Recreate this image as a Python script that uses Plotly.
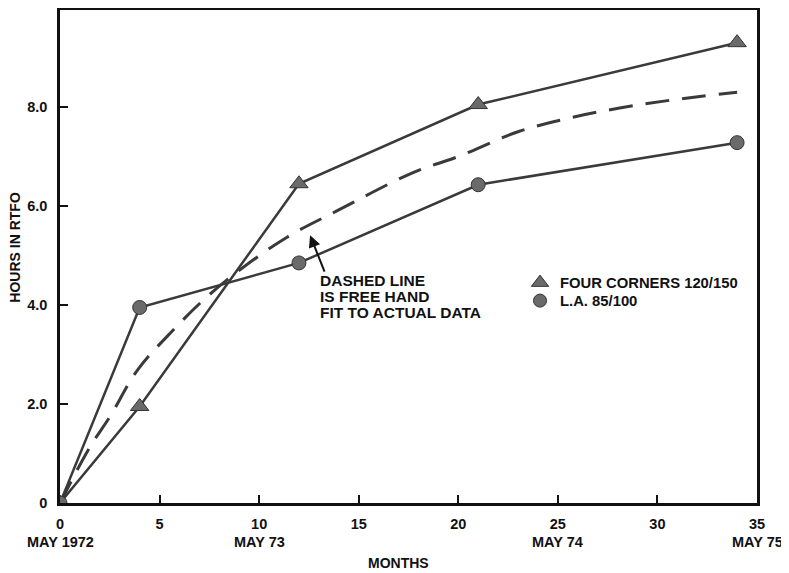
import plotly.graph_objects as go

months_fc = [0, 4, 12, 21, 34]
hours_fc = [0, 1.95, 6.45, 8.05, 9.3]

months_la = [0, 4, 12, 21, 34]
hours_la = [0, 3.95, 4.85, 6.43, 7.28]

months_fit = [0, 1.5, 2.5, 3.9, 5.7, 7.2, 9.0, 11.4, 13.9, 17.7, 20.0, 23.0, 25.6, 28.1, 30.7, 34.0]
hours_fit = [0, 1.13, 1.74, 2.69, 3.5, 4.1, 4.7, 5.37, 5.9, 6.67, 7.0, 7.5, 7.78, 7.98, 8.14, 8.3]

x_tickvals = [0, 5, 10, 15, 20, 25, 30, 35]
x_ticktext = ["0", "5", "10", "15", "20", "25", "30", "35"]
date_positions = [0, 10, 25, 35]
date_labels = ["MAY 1972", "MAY 73", "MAY 74", "MAY 75"]
y_tickvals = [0, 2, 4, 6, 8]
y_ticktext = ["0", "2.0", "4.0", "6.0", "8.0"]
note_lines = ["DASHED LINE", "IS FREE HAND", "FIT TO ACTUAL DATA"]

LINE = "#3a3a3a"
MARK = "#6a6a6a"
AX_FONT = dict(family="Liberation Sans, Arial", size=14.5, color="#111", weight="bold")
TX_FONT = dict(family="Liberation Sans, Arial", size=15.5, color="#111", weight="bold")
LG_FONT = dict(family="Liberation Sans, Arial", size=14.8, color="#111", weight="bold")

fig = go.Figure()
fig.add_trace(go.Scatter(x=months_fit, y=hours_fit, mode="lines", line=dict(color=LINE, width=3, dash="24px,13px", shape="spline"), showlegend=False))
fig.add_trace(go.Scatter(x=months_fc, y=hours_fc, mode="lines+markers", line=dict(color=LINE, width=2.5),
                         marker=dict(symbol="triangle-up", size=16, color=MARK, line=dict(color="#333", width=1)), showlegend=False))
fig.add_trace(go.Scatter(x=months_la, y=hours_la, mode="lines+markers", line=dict(color=LINE, width=2.5),
                         marker=dict(symbol="circle", size=14, color=MARK, line=dict(color="#333", width=1)), showlegend=False))
# legend entries
fig.add_trace(go.Scatter(x=[None], y=[None], mode="markers", name="FOUR CORNERS 120/150", legend="legend",
                         marker=dict(symbol="triangle-up", size=15, color=MARK, line=dict(color="#333", width=1))))
fig.add_trace(go.Scatter(x=[None], y=[None], mode="markers", name="L.A. 85/100", legend="legend2",
                         marker=dict(symbol="circle", size=13, color=MARK, line=dict(color="#333", width=1))))

fig.add_annotation(x=12.56, y=5.41, ax=15, ay=38, text="", showarrow=True, arrowhead=2, arrowsize=1.2,
                   arrowwidth=2, arrowcolor="#111")
# note text, tight line spacing
for i, line in enumerate(note_lines):
    fig.add_annotation(xref="paper", yref="paper", x=(318 - 60) / 697, y=(503 - (281 + 16 * i)) / 493,
                       xanchor="left", yanchor="middle", showarrow=False, text=line, font=TX_FONT)
# date labels under ticks
for xv, lab in zip(date_positions, date_labels):
    fig.add_annotation(x=xv, xref="x", yref="paper", y=-0.0791, xanchor="center", yanchor="middle",
                       text=lab, showarrow=False, font=AX_FONT)
# axis titles
fig.add_annotation(xref="paper", yref="paper", x=-0.0645, y=0.518, xanchor="center", yanchor="middle",
                   text="HOURS IN RTFO", textangle=-90, showarrow=False, font=dict(AX_FONT, size=14))
fig.add_annotation(xref="paper", yref="paper", x=0.485, y=-0.122, xanchor="center", yanchor="middle",
                   text="MONTHS", showarrow=False, font=dict(AX_FONT, size=14))

leg_common = dict(xanchor="left", yanchor="middle", font=LG_FONT, bgcolor="rgba(0,0,0,0)", itemwidth=30)
fig.update_layout(
    width=781, height=565,
    margin=dict(l=52, r=32, t=2, b=70),
    plot_bgcolor="white", paper_bgcolor="white",
    legend=dict(x=0.660, y=(503 - 283) / 493, **leg_common),
    legend2=dict(x=0.660, y=(503 - 301) / 493, **leg_common),
    xaxis=dict(range=[0, 35], tickvals=x_tickvals, ticktext=x_ticktext, ticks="inside", ticklen=8,
               tickwidth=1.5, tickcolor="#111", showline=True, linecolor="#111", linewidth=2.5, mirror=True,
               showgrid=False, zeroline=False, tickfont=AX_FONT, automargin=False, ticklabelstandoff=6),
    yaxis=dict(range=[0, 9.96], tickvals=y_tickvals, ticktext=y_ticktext, ticks="inside", ticklen=8,
               tickwidth=1.5, tickcolor="#111", showline=True, linecolor="#111", linewidth=2.5, mirror=True,
               showgrid=False, zeroline=False, tickfont=AX_FONT, automargin=False, ticklabelstandoff=7),
)
fig.write_html("out.html")
